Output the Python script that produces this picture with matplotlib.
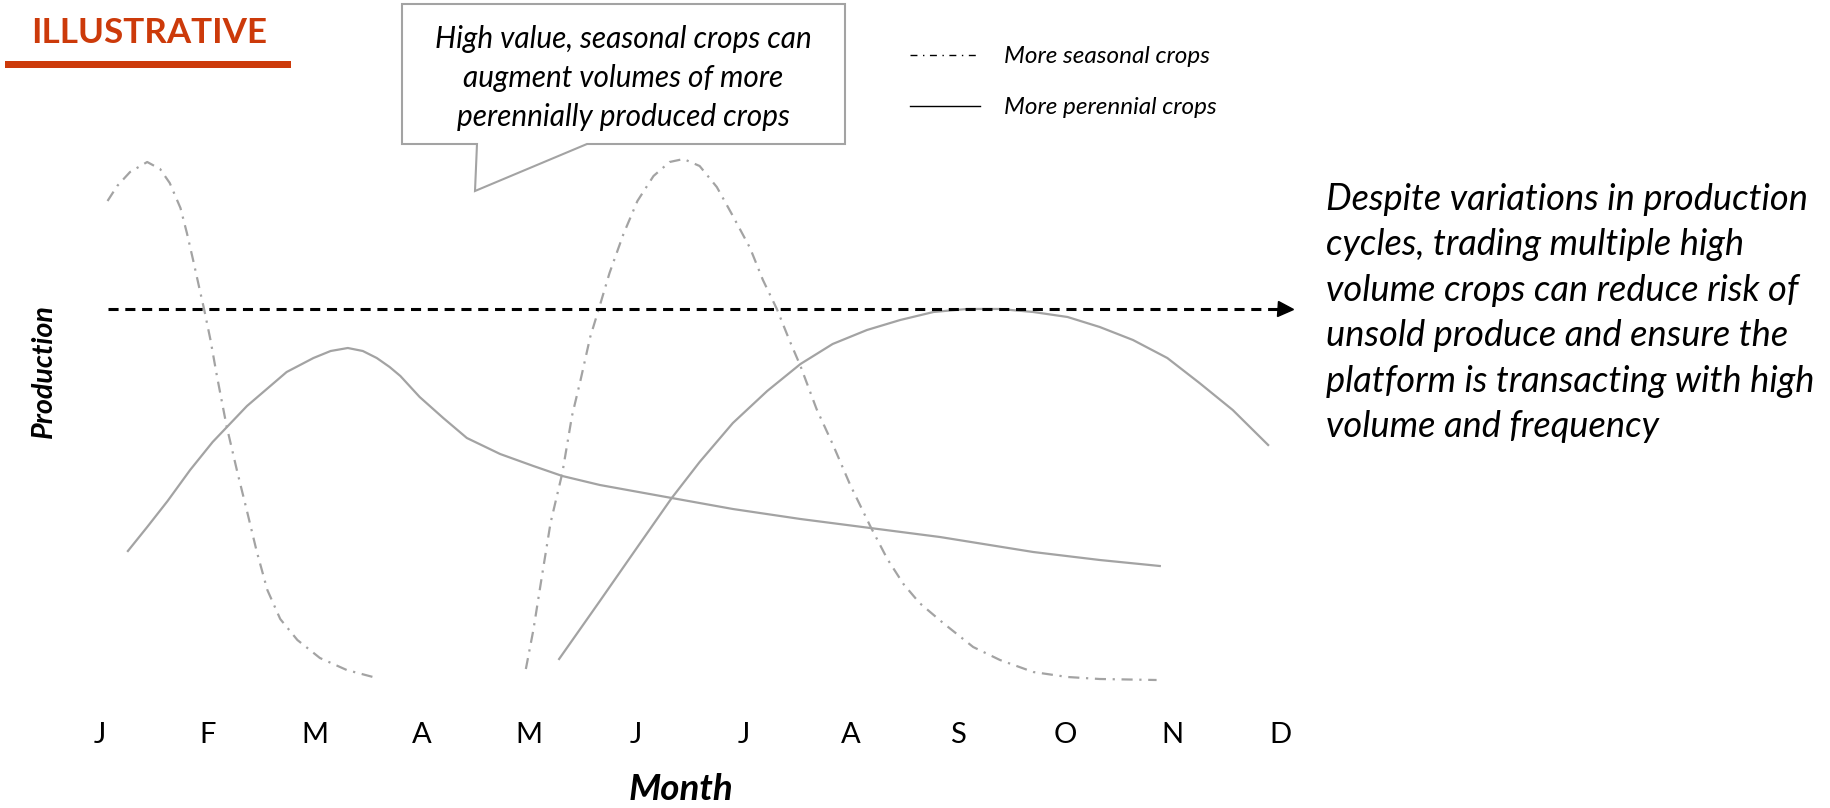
import matplotlib
matplotlib.use('Agg')
import matplotlib.pyplot as plt
from matplotlib.lines import Line2D
from matplotlib.patches import Polygon, Rectangle

plt.rcParams['font.family'] = ['Lato', 'DejaVu Sans']

# month axis: 0 = Jan ... 11 = Dec
months = ['J', 'F', 'M', 'A', 'M', 'J', 'J', 'A', 'S', 'O', 'N', 'D']

# seasonal crop, first harvest (dash-dot)
seasonal_a_x = [0.07, 0.16, 0.28, 0.44, 0.56, 0.65, 0.75, 0.81, 0.87, 0.93, 0.97, 1.03,
                1.09, 1.18, 1.28, 1.37, 1.46, 1.56, 1.68, 1.84, 2.05, 2.30, 2.58]
seasonal_a_y = [95.8, 98.8, 101.6, 103.6, 102.2, 99.4, 94.4, 89.4, 83.8, 78.0, 74.2, 68.0,
                60.8, 50.8, 41.6, 33.8, 25.8, 18.0, 12.2, 8.0, 4.4, 2.0, 0.4]

# seasonal crop, second harvest (dash-dot)
seasonal_b_x = [3.97, 4.04, 4.12, 4.20, 4.31, 4.40, 4.48, 4.57, 4.65, 4.75, 4.88, 5.01,
                5.16, 5.31, 5.44, 5.59, 5.75, 5.90, 6.06, 6.18, 6.31, 6.43, 6.53, 6.68,
                6.83, 6.99, 7.18, 7.34, 7.49, 7.64, 7.86, 8.14, 8.39, 8.70, 9.02, 9.32, 9.85]
seasonal_b_y = [2.2, 10.0, 20.8, 31.4, 41.4, 52.8, 60.0, 68.6, 74.2, 81.4, 89.2, 95.8,
                100.8, 103.6, 104.2, 102.8, 98.6, 92.8, 86.4, 80.0, 74.2, 67.8, 62.8, 54.2,
                47.2, 39.2, 30.8, 24.2, 19.2, 15.4, 11.4, 6.6, 4.0, 1.6, 0.6, 0.2, 0.0]

# perennial crop, first (solid)
perennial_a_x = [0.26, 0.44, 0.63, 0.84, 1.05, 1.37, 1.74, 1.99, 2.15, 2.31, 2.45, 2.58,
                 2.70, 2.80, 2.98, 3.20, 3.42, 3.73, 4.04, 4.31, 4.66, 5.33, 5.90, 6.53,
                 7.18, 7.83, 8.70, 9.32, 9.88]
perennial_a_y = [25.8, 30.6, 35.8, 42.0, 47.6, 54.8, 61.6, 64.4, 65.8, 66.4, 65.8, 64.4,
                 62.6, 60.8, 56.6, 52.4, 48.4, 45.2, 42.8, 40.8, 39.0, 36.4, 34.2, 32.2,
                 30.4, 28.6, 25.6, 24.0, 22.8]

# perennial crop, second (solid)
perennial_b_x = [4.28, 4.66, 5.03, 5.33, 5.59, 5.90, 6.22, 6.53, 6.83, 7.15, 7.46, 7.77,
                 8.08, 8.39, 8.70, 9.02, 9.32, 9.63, 9.95, 10.25, 10.56, 10.89]
perennial_b_y = [4.2, 15.8, 27.2, 36.4, 43.6, 51.4, 57.8, 63.2, 67.2, 70.0, 72.0, 73.6,
                 74.2, 74.2, 73.6, 72.6, 70.6, 68.0, 64.4, 59.4, 54.0, 47.0]

# combined volume level (dashed arrow)
target_level = 74.2
arrow_start, arrow_end = 0.07, 11.12

GRAY = '#a3a3a3'
ORANGE = '#cc3a0a'
W, H = 1830, 808

fig = plt.figure(figsize=(W / 100, H / 100), dpi=100)


def fx(px):
    return px / W


def fy(py):
    return 1 - py / H


ax = fig.add_axes([fx(60), fy(700), fx(1300) - fx(60), fy(130) - fy(700)])
ax.set_xlim(-0.373, 11.187)
ax.set_ylim(-4, 110)

seas = (0, (5, 3, 1, 3))
ax.plot(seasonal_a_x, seasonal_a_y, color=GRAY, lw=1.6, linestyle=seas)
ax.plot(seasonal_b_x, seasonal_b_y, color=GRAY, lw=1.6, linestyle=seas)
ax.plot(perennial_a_x, perennial_a_y, color=GRAY, lw=1.6)
ax.plot(perennial_b_x, perennial_b_y, color=GRAY, lw=1.6)

ax.plot([arrow_start, arrow_end - 0.12], [target_level, target_level],
        color='black', lw=2.2, linestyle=(0, (3.3, 2.2)))
ax.plot([arrow_end - 0.07], [target_level], marker='>', ms=10.8, color='black', lw=0)

ax.set_xticks(range(len(months)))
ax.set_xticklabels(months, fontsize=21)
ax.tick_params(axis='x', length=0, pad=16)
ax.set_yticks([])
for s in ax.spines.values():
    s.set_visible(False)

fig.text(fx(52), fy(371), 'Production', rotation=90, rotation_mode='anchor',
         ha='center', va='baseline', fontsize=20.7, fontweight='bold', style='italic')
fig.text(fx(681), fy(800), 'Month', ha='center', va='baseline',
         fontsize=26.5, fontweight='bold', style='italic')

# title
fig.text(fx(31), fy(43), 'ILLUSTRATIVE', ha='left', va='baseline',
         fontsize=25.2, fontweight='bold', color=ORANGE)
fig.add_artist(Rectangle((fx(5), fy(68)), fx(291) - fx(5), fy(61) - fy(68),
                         transform=fig.transFigure, color=ORANGE, lw=0))

# callout
pts = [(402, 4), (845, 4), (845, 144), (587, 144), (475, 191), (477, 144), (402, 144)]
fig.add_artist(Polygon([(fx(x), fy(y)) for x, y in pts], closed=True,
                       transform=fig.transFigure, facecolor='white',
                       edgecolor=GRAY, lw=1.5))
# va='baseline' on multi-line text pins the last line
fig.text(fx(623), fy(126), 'High value, seasonal crops can\naugment volumes of more\n'
         'perennially produced crops', ha='center', va='baseline', multialignment='center',
         fontsize=21.4, style='italic', linespacing=1.48)

# right note
fig.text(fx(1326), fy(437), 'Despite variations in production\ncycles, trading multiple high\n'
         'volume crops can reduce risk of\nunsold produce and ensure the\n'
         'platform is transacting with high\nvolume and frequency',
         ha='left', va='baseline', fontsize=26.1, style='italic', linespacing=1.46)

# legend
handles = [Line2D([], [], color='black', lw=1.0, linestyle=(0, (5, 4, 1, 4))),
           Line2D([], [], color='black', lw=1.0)]
fig.legend(handles, ['More seasonal crops', 'More perennial crops'], loc='upper left',
           bbox_to_anchor=(fx(910), fy(46)), frameon=False,
           prop=dict(style='italic', size=17.5), handlelength=2.9, handletextpad=0.95,
           labelspacing=1.25, borderpad=0, borderaxespad=0)

fig.savefig('out.png', dpi=100)
